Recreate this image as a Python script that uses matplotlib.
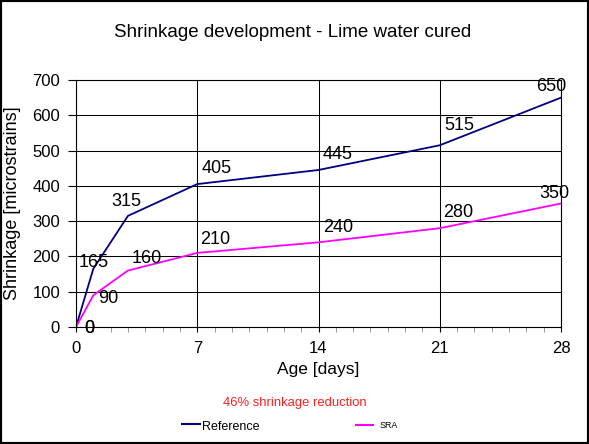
import numpy as np
import matplotlib.pyplot as plt
from matplotlib.patches import Rectangle

plt.rcParams['font.family'] = ['Liberation Sans', 'DejaVu Sans']

# data
days = [0, 1, 3, 7, 14, 21, 28]
reference = [0, 165, 315, 405, 445, 515, 650]
sra = [0, 90, 160, 210, 240, 280, 350]

# label offsets (pixels) for the point labels
ref_offsets = [(13, -1), (0, 6), (-2, 14), (19, 16), (19, 15), (20, 20), (-10, 11)]
sra_offsets = [(13, -1), (15, -3), (19, 12), (18, 13), (20, 15), (18, 16), (-7, 10)]

fig = plt.figure(figsize=(5.89, 4.44), dpi=100)
ax = fig.add_axes([76 / 589, 1 - 327 / 444, (561 - 76) / 589, (327 - 80) / 444])

ax.plot(days, reference, color='#000080', lw=1.3)
ax.plot(days, sra, color='#ff00ff', lw=1.3)

for d, v, off in zip(days, reference, ref_offsets):
    ax.annotate(str(v), (d, v), xytext=off, textcoords='offset pixels',
                ha='center', va='center', fontsize=13)
for d, v, off in zip(days, sra, sra_offsets):
    ax.annotate(str(v), (d, v), xytext=off, textcoords='offset pixels',
                ha='center', va='center', fontsize=13)

ax.set_xlim(0, 28)
ax.set_ylim(0, 700)
ax.set_xticks(range(0, 29, 7))
ax.set_xticks(range(0, 29), minor=True)
ax.set_yticks(range(0, 701, 100))
ax.grid(True, which='major', color='black', lw=0.75)
ax.set_axisbelow(True)
ax.tick_params(axis='both', which='major', labelsize=12, direction='out')
ax.tick_params(axis='y', which='major', length=5.5, pad=6)
ax.tick_params(axis='x', which='major', length=3.6, pad=6.5)
ax.tick_params(axis='x', which='minor', length=3.6, color='#888888')
for s in ax.spines.values():
    s.set_linewidth(0.8)

ax.set_xlabel('Age [days]', fontsize=12.5, labelpad=4)
ax.set_ylabel('Shrinkage [microstrains]', fontsize=13, labelpad=8)
fig.text(292.5 / 589, 1 - 37 / 444, 'Shrinkage development - Lime water cured',
         ha='center', va='baseline', fontsize=13.5)
fig.text(295 / 589, 1 - 405.5 / 444, '46% shrinkage reduction', color='#ff2020',
         ha='center', va='baseline', fontsize=9.4)

# legend
fig.add_artist(plt.Line2D([182 / 589, 200 / 589], [1 - 424 / 444] * 2, color='#000080', lw=1.5))
fig.text(201.7 / 589, 1 - 430 / 444, 'Reference', ha='left', va='baseline', fontsize=9)
fig.add_artist(plt.Line2D([356 / 589, 373 / 589], [1 - 425 / 444] * 2, color='#ff00ff', lw=1.5))
fig.text(380 / 589, 1 - 427.7 / 444, 'SRA', ha='left', va='baseline', fontsize=6.4)

fig.add_artist(Rectangle((0, 0), 1, 1, transform=fig.transFigure,
                         fill=False, edgecolor='black', lw=3))

fig.savefig('out.png', dpi=100)
